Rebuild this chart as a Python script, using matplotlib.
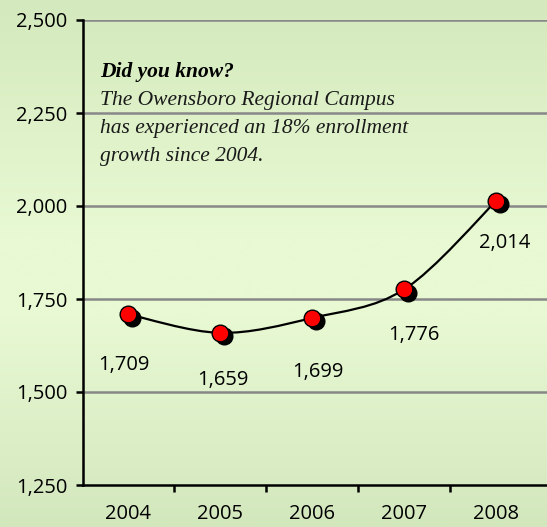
import numpy as np
import matplotlib
matplotlib.use("Agg")
import matplotlib.pyplot as plt
from matplotlib.path import Path
from matplotlib.patches import PathPatch
from matplotlib.colors import LinearSegmentedColormap
import matplotlib.transforms as mtransforms

years = ["2004", "2005", "2006", "2007", "2008"]
enrollment = [1709, 1659, 1699, 1776, 2014]
y_ticks = [1250, 1500, 1750, 2000, 2250, 2500]

# label offsets in pixels relative to each point (Excel style placement)
label_offsets = [(-4, -51), (3, -47), (6, -54), (10, -46), (8, -42)]

fig = plt.figure(figsize=(5.47, 5.27), dpi=100)

# background gradient: darker green top and bottom, lighter in the middle
bg = fig.add_axes([0, 0, 1, 1], zorder=-10)
cmap = LinearSegmentedColormap.from_list(
    "bg", [(0, "#d4e9bd"), (0.45, "#e8f9d3"), (0.6, "#e8f9d3"), (1, "#d3e7bd")])
bg.imshow(np.linspace(0, 1, 256).reshape(-1, 1), aspect="auto", cmap=cmap,
          extent=[0, 1, 0, 1])
bg.axis("off")

ax = fig.add_axes([83 / 547, (527 - 485) / 527, (547 - 83) / 547, 465 / 527])
ax.set_facecolor("none")

x = np.arange(len(years))
ax.set_xlim(-0.49, 4.55)
ax.set_ylim(1250, 2500)

for yt in y_ticks[1:]:
    ax.axhline(yt, color="#888888", lw=1.8, zorder=1)

# smooth curve through the points (Catmull-Rom as cubic Bezier)
pts = np.column_stack([x, enrollment]).astype(float)
verts = [tuple(pts[0])]
codes = [Path.MOVETO]
for i in range(len(pts) - 1):
    p0 = pts[i - 1] if i > 0 else pts[i]
    p1 = pts[i]
    p2 = pts[i + 1]
    p3 = pts[i + 2] if i + 2 < len(pts) else pts[i + 1]
    c1 = p1 + (p2 - p0) / 6
    c2 = p2 - (p3 - p1) / 6
    verts += [tuple(c1), tuple(c2), tuple(p2)]
    codes += [Path.CURVE4] * 3
ax.add_patch(PathPatch(Path(verts, codes), fill=False, edgecolor="black",
                       lw=1.6, zorder=3))

shadow = mtransforms.offset_copy(ax.transData, fig=fig, x=3.5, y=-3.5, units="dots")
ax.plot(x, enrollment, "o", ms=12, color="black", transform=shadow, zorder=4)
ax.plot(x, enrollment, "o", ms=12, mfc="#ff0000", mec="black", mew=1.0, zorder=5)

for xi, v, (dx, dy) in zip(x, enrollment, label_offsets):
    ax.annotate(f"{v:,}", (xi, v), xytext=(dx * 0.72, dy * 0.72),
                textcoords="offset points", ha="center", va="center",
                fontsize=14.5, family="Open Sans", color="black")

ax.set_yticks(y_ticks)
ax.set_yticklabels([f"{t:,}" for t in y_ticks], fontsize=14.5, family="Open Sans")
ax.set_xticks(x)
ax.set_xticklabels(years, fontsize=14.5, family="Open Sans")
ax.set_xticks(np.arange(0.5, 4.0, 1), minor=True)
ax.tick_params(axis="x", which="major", length=0, pad=14, labelcolor="black")
ax.tick_params(axis="x", which="minor", length=5, width=1.8, direction="out")
ax.tick_params(axis="y", length=5, width=1.8, direction="out", pad=6,
               labelcolor="black")

for s in ["top", "right"]:
    ax.spines[s].set_visible(False)
for s in ["left", "bottom"]:
    ax.spines[s].set_linewidth(1.8)
ax.spines["bottom"].set_zorder(6)

fig.text(100 / 547, 1 - 72 / 527, "Did you know?", fontsize=15.5,
         family="Liberation Serif", style="italic", weight="bold", va="center")
note = ["The Owensboro Regional Campus",
        "has experienced an 18% enrollment",
        "growth since 2004."]
for i, line in enumerate(note):
    fig.text(100 / 547, 1 - (101 + 28 * i) / 527, line, fontsize=15.5,
             family="Liberation Serif", style="italic", va="center",
             color="#1a1a1a")

fig.savefig("out.png", dpi=100)
